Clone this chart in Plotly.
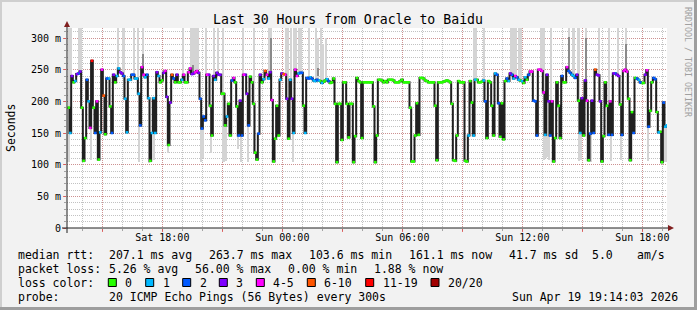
import plotly.graph_objects as go
from datetime import datetime, timedelta

# ---------------- data ----------------
median_ms = [
    190, 150, 240, 230, 232, 243, 244, 247, 190, 106,
    142, 234, 200, 158, 264, 190, 150, 200, 108, 151,
    250, 209, 148, 236, 236, 192, 150, 242, 230, 240,
    252, 246, 244, 240, 204, 151, 234, 234, 242, 242,
    236, 236, 212, 162, 254, 242, 238, 242, 205, 106,
    150, 205, 150, 246, 240, 230, 233, 245, 248, 207,
    131, 198, 242, 236, 230, 242, 230, 230, 234, 242,
    230, 230, 246, 252, 243, 244, 246, 248, 245, 204,
    157, 176, 170, 242, 242, 193, 146, 240, 234, 245,
    242, 242, 212, 212, 162, 176, 196, 146, 233, 237,
    230, 192, 146, 201, 146, 242, 242, 212, 162, 239,
    230, 196, 119, 108, 149, 242, 230, 235, 248, 242,
    236, 246, 202, 105, 141, 193, 146, 234, 244, 243,
    242, 204, 141, 234, 204, 150, 250, 240, 244, 245,
    245, 193, 150, 237, 236, 238, 236, 233, 232, 234,
    233, 232, 229, 231, 233, 235, 232, 229, 230, 236,
    196, 104, 196, 196, 139, 230, 230, 196, 143, 196,
    196, 104, 145, 237, 232, 230, 142, 230, 230, 230,
    230, 230, 230, 192, 104, 146, 234, 234, 233, 230,
    232, 230, 234, 234, 234, 233, 230, 230, 230, 232,
    234, 230, 230, 230, 230, 190, 105, 105, 146, 197,
    147, 237, 237, 236, 233, 232, 230, 230, 230, 230,
    193, 107, 230, 230, 230, 231, 232, 233, 232, 230,
    196, 107, 106, 146, 232, 230, 230, 230, 106, 105,
    146, 232, 198, 146, 234, 234, 230, 230, 231, 233,
    200, 142, 232, 230, 193, 146, 244, 242, 197, 144,
    197, 140, 232, 236, 232, 244, 242, 236, 240, 238,
    234, 233, 232, 229, 238, 234, 242, 247, 247, 201,
    200, 146, 250, 250, 248, 214, 147, 242, 200, 146,
    200, 105, 142, 230, 193, 142, 240, 230, 230, 254,
    248, 245, 242, 240, 237, 242, 201, 150, 205, 146,
    233, 201, 107, 149, 201, 150, 250, 242, 241, 200,
    105, 145, 230, 193, 147, 200, 147, 244, 244, 242,
    240, 195, 147, 248, 250, 247, 204, 107, 183, 150,
    237, 236, 234, 230, 229, 229, 242, 249, 160, 185,
    230, 237, 235, 183, 151, 152, 104, 198, 160, 162,
]

# loss category per step: 0:'0' 1:'1' 2:'2' 3:'3' 4:'4-5' 5:'6-10' 6:'11-19' 7:'20/20'
loss_cat = [
    0, 1, 3, 0, 1, 3, 2, 3, 0, 0,
    0, 2, 1, 4, 6, 0, 2, 4, 0, 1,
    4, 5, 0, 2, 1, 0, 2, 3, 0, 1,
    1, 3, 3, 2, 1, 1, 1, 1, 2, 2,
    1, 1, 1, 2, 4, 4, 1, 2, 1, 0,
    1, 1, 1, 3, 1, 0, 0, 3, 4, 3,
    0, 3, 5, 2, 0, 3, 0, 0, 1, 4,
    0, 0, 4, 4, 3, 3, 4, 4, 3, 2,
    2, 2, 2, 4, 3, 0, 0, 3, 1, 3,
    3, 3, 0, 0, 0, 1, 0, 0, 2, 4,
    0, 0, 2, 3, 2, 4, 3, 3, 2, 0,
    0, 0, 0, 0, 2, 3, 0, 1, 5, 4,
    1, 3, 4, 0, 0, 0, 0, 1, 3, 5,
    4, 3, 0, 1, 3, 1, 4, 4, 1, 2,
    2, 0, 1, 2, 2, 1, 2, 1, 1, 2,
    1, 0, 1, 0, 0, 1, 2, 0, 0, 0,
    0, 0, 0, 0, 0, 0, 0, 0, 0, 0,
    0, 0, 0, 0, 0, 0, 0, 0, 0, 0,
    0, 0, 0, 0, 0, 0, 0, 0, 0, 0,
    0, 0, 0, 0, 0, 0, 0, 0, 0, 0,
    0, 0, 0, 0, 0, 0, 0, 0, 0, 0,
    0, 0, 0, 0, 0, 0, 0, 0, 0, 0,
    0, 0, 0, 0, 0, 0, 0, 0, 0, 0,
    0, 0, 0, 0, 0, 0, 0, 0, 0, 0,
    1, 0, 0, 1, 1, 0, 0, 0, 0, 1,
    2, 0, 0, 0, 0, 0, 1, 2, 2, 0,
    0, 0, 0, 2, 1, 3, 2, 1, 4, 2,
    1, 0, 1, 0, 1, 0, 2, 4, 4, 2,
    2, 2, 4, 4, 4, 4, 1, 3, 3, 2,
    4, 0, 0, 0, 0, 0, 2, 0, 0, 4,
    2, 2, 1, 1, 2, 3, 0, 1, 3, 0,
    3, 4, 0, 2, 3, 2, 5, 3, 3, 3,
    0, 0, 0, 0, 2, 4, 2, 3, 2, 3,
    3, 0, 2, 4, 4, 4, 0, 0, 0, 2,
    0, 2, 1, 2, 0, 0, 3, 4, 2, 0,
    0, 2, 2, 0, 1, 0, 0, 2, 1, 1,
]

loss_labels = ["0", "1", "2", "3", "4-5", "6-10", "11-19", "20/20"]
loss_colors = ["#26ff00", "#00b8ff", "#0059ff", "#7e00ff",
               "#ff00ff", "#ff5500", "#ff0000", "#a10000"]

# light smoke reaching upward (step index, top of smoke in ms)
smoke_up_step = [1, 2, 7, 8, 30, 33, 34, 40, 42, 45, 69, 74, 75, 76, 77, 78,
                 83, 88, 90, 93, 105, 112, 121, 122, 131, 132, 134, 136, 137,
                 139, 140, 145, 149, 150, 152, 153, 155, 244, 245, 250, 266,
                 267, 268, 269, 271, 272, 284, 285, 286, 290, 301, 303, 304,
                 306, 307, 311, 319, 325, 330, 335]
smoke_up_top = [316, 316, 316, 316, 316, 316, 316, 316, 316, 316, 316, 316,
                316, 316, 316, 316, 316, 316, 316, 316, 316, 316, 316, 316,
                316, 316, 316, 316, 316, 316, 316, 316, 316, 300, 316, 290,
                300, 316, 316, 316, 316, 316, 316, 316, 316, 316, 316, 316,
                316, 316, 316, 316, 316, 316, 316, 316, 316, 316, 316, 316]

# darker smoke (step index, low ms, high ms)
smoke_dark_step = [14, 45, 75, 122, 150, 301, 311, 335]
smoke_dark_lo = [190, 242, 246, 246, 240, 248, 201, 247]
smoke_dark_hi = [262, 275, 258, 300, 252, 302, 300, 290]

# light smoke reaching downward (step index, bottom of smoke in ms)
smoke_dn_step = [0, 1, 14, 43, 49, 50, 52, 60, 80, 81, 86, 93, 94, 95, 102,
                 104, 108, 112, 135, 240, 286, 287, 288, 289, 307, 308, 313,
                 314, 326, 332, 348, 358, 359]
smoke_dn_bot = [105, 105, 108, 105, 104, 105, 108, 118, 105, 110, 118, 105,
                105, 106, 125, 105, 105, 118, 105, 112, 108, 110, 112, 108,
                106, 108, 105, 105, 106, 108, 106, 105, 105]

y_tick_vals = [0, 50, 100, 150, 200, 250, 300]
y_tick_text = ["0", "50 m", "100 m", "150 m", "200 m", "250 m", "300 m"]
x_tick_text = ["", "Sat 18:00", "", "Sun 00:00", "", "Sun 06:00", "",
               "Sun 12:00", "", "Sun 18:00"]

title_text = "Last 30 Hours from Oracle to Baidu"
rtt_items = ["median rtt:", "207.1 ms avg", "263.7 ms max", "103.6 ms min",
             "161.1 ms now", "41.7 ms sd", "5.0", "am/s"]
loss_items = ["packet loss:", "5.26 % avg", "56.00 % max", "0.00 % min",
              "1.88 % now"]
probe_text = "20 ICMP Echo Pings (56 Bytes) every 300s"
stamp_text = "Sun Apr 19 19:14:03 2026"

# ---------------- layout helpers ----------------
W, H = 697, 310
PL, PR, PT, PB = 67, 667, 28, 228
FONT = "DejaVu Sans Mono"
MAJOR_GRID = "rgba(222,79,79,0.42)"
MINOR_GRID = "rgba(143,143,143,0.55)"


def px(x):
    return (x - PL) / (PR - PL)


def py(y):
    return (PB - y) / (PB - PT)


axis_start = datetime(2026, 4, 18, 13, 14, 3)
axis_end = datetime(2026, 4, 19, 19, 14, 3)
step = timedelta(minutes=5)
times = [axis_start + step * i + step / 2 for i in range(len(median_ms))]

fig = go.Figure()

# smoke up (light)
fig.add_trace(go.Bar(
    x=[times[i] for i in smoke_up_step],
    base=[median_ms[i] for i in smoke_up_step],
    y=[t - median_ms[i] for i, t in zip(smoke_up_step, smoke_up_top)],
    width=300000, marker=dict(color="#d4d4d4", line=dict(width=0)),
    hoverinfo="skip", showlegend=False))
# smoke down (light)
fig.add_trace(go.Bar(
    x=[times[i] for i in smoke_dn_step],
    base=smoke_dn_bot,
    y=[median_ms[i] - b for i, b in zip(smoke_dn_step, smoke_dn_bot)],
    width=300000, marker=dict(color="#d4d4d4", line=dict(width=0)),
    hoverinfo="skip", showlegend=False))
# smoke dark
fig.add_trace(go.Bar(
    x=[times[i] for i in smoke_dark_step],
    base=smoke_dark_lo,
    y=[h - l for l, h in zip(smoke_dark_lo, smoke_dark_hi)],
    width=300000, marker=dict(color="#8a8a8a", line=dict(width=0)),
    hoverinfo="skip", showlegend=False))

# median line
fig.add_trace(go.Scatter(
    x=times, y=median_ms, mode="lines",
    line=dict(color="#202020", width=2, shape="hv"),
    hoverinfo="skip", showlegend=False))

# loss coloured marks
for k, col in enumerate(loss_colors):
    idx = [i for i, c in enumerate(loss_cat) if c == k]
    if not idx:
        continue
    fig.add_trace(go.Scatter(
        x=[times[i] + step / 2 for i in idx], y=[median_ms[i] for i in idx],
        mode="markers",
        marker=dict(symbol="square", size=2.6, color=col, line=dict(width=0)),
        hoverinfo="skip", showlegend=False))

x_tick_vals = [datetime(2026, 4, 18, 15) + timedelta(hours=3 * k) for k in range(10)]

fig.update_layout(
    width=W, height=H,
    margin=dict(l=PL, r=W - PR, t=PT, b=H - PB),
    paper_bgcolor="#f2f2f2", plot_bgcolor="#ffffff",
    barmode="overlay", bargap=0,
    font=dict(family=FONT, size=10, color="#000000"),
    xaxis=dict(
        type="date", range=[axis_start, axis_end],
        tickvals=x_tick_vals, ticktext=x_tick_text,
        showgrid=True, gridcolor=MAJOR_GRID, griddash="1px,1px", gridwidth=1,
        ticks="outside", ticklen=3, tickcolor="rgba(222,79,79,0.8)",
        ticklabelstandoff=-3,
        tickfont=dict(family=FONT, size=10, color="#000"),
        minor=dict(dtick=3600000, tick0="2026-04-18 00:00", showgrid=True,
                   gridcolor=MINOR_GRID, griddash="1px,1px",
                   ticks="outside", ticklen=2, tickcolor="rgba(143,143,143,0.8)"),
        showline=False, zeroline=False, fixedrange=True,
    ),
    yaxis=dict(
        range=[0, 315.8], tickvals=y_tick_vals, ticktext=y_tick_text,
        showgrid=True, gridcolor=MAJOR_GRID, griddash="1px,1px", gridwidth=1,
        ticks="outside", ticklen=3, tickcolor="rgba(222,79,79,0.8)",
        tickfont=dict(family=FONT, size=10, color="#000"),
        minor=dict(dtick=10, tick0=0, showgrid=True,
                   gridcolor=MINOR_GRID, griddash="1px,1px",
                   ticks="outside", ticklen=2, tickcolor="rgba(143,143,143,0.8)"),
        showline=False, zeroline=False, fixedrange=True,
    ),
)

shapes = []
# axes with arrows
shapes.append(dict(type="line", xref="paper", yref="paper",
                   x0=px(62), x1=px(670), y0=py(228), y1=py(228),
                   line=dict(color="#1f1f1f", width=1)))
shapes.append(dict(type="line", xref="paper", yref="paper",
                   x0=px(67), x1=px(67), y0=py(233), y1=py(24),
                   line=dict(color="#1f1f1f", width=1)))
shapes.append(dict(type="path", xref="paper", yref="paper",
                   path=f"M {px(668)},{py(225)} L {px(674)},{py(228)} L {px(668)},{py(231)} Z",
                   fillcolor="#801f1f", line=dict(width=0)))
shapes.append(dict(type="path", xref="paper", yref="paper",
                   path=f"M {px(64)},{py(27)} L {px(67)},{py(21)} L {px(70)},{py(27)} Z",
                   fillcolor="#801f1f", line=dict(width=0)))
# image border (3D shade)
shapes.append(dict(type="rect", xref="paper", yref="paper",
                   x0=px(0), x1=px(697), y0=py(0), y1=py(2),
                   fillcolor="#cfcfcf", line=dict(width=0)))
shapes.append(dict(type="rect", xref="paper", yref="paper",
                   x0=px(0), x1=px(2), y0=py(0), y1=py(310),
                   fillcolor="#cfcfcf", line=dict(width=0)))
shapes.append(dict(type="rect", xref="paper", yref="paper",
                   x0=px(0), x1=px(697), y0=py(307), y1=py(310),
                   fillcolor="#9e9e9e", line=dict(width=0)))
shapes.append(dict(type="rect", xref="paper", yref="paper",
                   x0=px(694), x1=px(697), y0=py(0), y1=py(310),
                   fillcolor="#9e9e9e", line=dict(width=0)))

ann = []


def text(x, y, s, size=11.5, anchor="left", color="#000000", angle=0):
    ann.append(dict(x=px(x), y=py(y), xref="paper", yref="paper", text=s,
                    showarrow=False, xanchor=anchor, yanchor="middle",
                    textangle=angle,
                    font=dict(family=FONT, size=size, color=color)))


text(348, 19, title_text, size=13.2, anchor="center")
text(11, 128, "Seconds", size=11.5, anchor="center", angle=-90)
text(688, 62, "RRDTOOL / TOBI OETIKER", size=8.3, anchor="center",
     color="#a0a0a0", angle=90)

rtt_x = [16, 107.3, 207.3, 306.7, 407.3, 506.7, 590, 635]
for xv, s in zip(rtt_x, rtt_items):
    text(xv, 254.5, s)
loss_x = [16, 107.3, 192.7, 286, 371.7]
for xv, s in zip(loss_x, loss_items):
    text(xv, 268.5, s)
text(16, 282.5, "loss color:")
box_x = [108.3, 145.7, 182.7, 219.3, 256.3, 307.3, 365.7, 431]
lab_x = [123.3, 160.7, 197.7, 234.3, 270.7, 321.7, 380.7, 445.7]
for bx, lx, col, lab in zip(box_x, lab_x, loss_colors, loss_labels):
    shapes.append(dict(type="rect", xref="paper", yref="paper",
                       x0=px(bx), x1=px(bx + 8), y0=py(278.5), y1=py(286.5),
                       fillcolor=col, line=dict(color="#000000", width=1)))
    text(lx, 282.5, lab)
text(16, 296.5, "probe:")
text(107.3, 296.5, probe_text)
text(680, 296.5, stamp_text, anchor="right")

fig.update_layout(shapes=shapes, annotations=ann)
fig.write_html("out.html")
